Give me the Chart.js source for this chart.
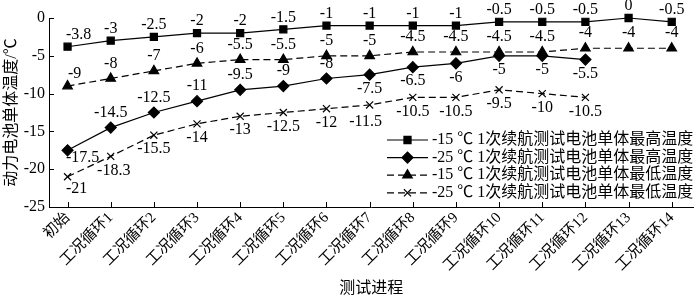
<!DOCTYPE html>
<html lang="zh">
<head>
<meta charset="UTF-8">
<title>动力电池单体温度</title>
<script src="https://cdn.jsdelivr.net/npm/chart.js"></script>
<style>
    html, body { margin: 0; padding: 0; background: #fff; }
    #wrap { width: 700px; height: 298px; }
</style>
</head>
<body>
<div id="wrap"><canvas id="tempChart" width="700" height="298"></canvas></div>
<script>
// x axis categories
const stages = ['初始', '工况循环1', '工况循环2', '工况循环3', '工况循环4', '工况循环5', '工况循环6',
    '工况循环7', '工况循环8', '工况循环9', '工况循环10', '工况循环11', '工况循环12', '工况循环13', '工况循环14'];

// cell temperatures, ℃
const maxAtMinus15 = [-3.8, -3, -2.5, -2, -2, -1.5, -1, -1, -1, -1, -0.5, -0.5, -0.5, 0, -0.5];
const maxAtMinus25 = [-17.5, -14.5, -12.5, -11, -9.5, -9, -8, -7.5, -6.5, -6, -5, -5, -5.5, null, null];
const minAtMinus15 = [-9, -8, -7, -6, -5.5, -5.5, -5, -5, -4.5, -4.5, -4.5, -4.5, -4, -4, -4];
const minAtMinus25 = [-21, -18.3, -15.5, -14, -13, -12.5, -12, -11.5, -10.5, -10.5, -9.5, -10, -10.5, null, null];

const seriesNames = [
    '-15 ℃ 1次续航测试电池单体最高温度',
    '-25 ℃ 1次续航测试电池单体最高温度',
    '-15 ℃ 1次续航测试电池单体最低温度',
    '-25 ℃ 1次续航测试电池单体最低温度'
];

const yTicks = [0, -5, -10, -15, -20, -25];

const SERIF = '"Liberation Serif", "Noto Sans CJK SC", serif';
Chart.defaults.font.family = SERIF;
Chart.defaults.color = '#000';

function toPoints(values) {
    return values.map((v, i) => ({ x: i, y: v })).filter(p => p.y !== null);
}

// value labels next to each point; offsets per series, a few points nudged
const valueLabels = {
    id: 'valueLabels',
    afterDatasetsDraw(chart, args, opts) {
        const ctx = chart.ctx;
        ctx.save();
        ctx.font = '16px ' + SERIF;
        ctx.fillStyle = '#000';
        ctx.textAlign = 'center';
        ctx.textBaseline = 'middle';
        chart.data.datasets.forEach((ds, di) => {
            const meta = chart.getDatasetMeta(di);
            meta.data.forEach((pt, k) => {
                const raw = ds.data[k];
                const idx = raw.x;
                let dy = opts.dy[di];
                let dx = 0;
                if (di === 1) dy = idx >= 7 ? 14 : -15;
                const nudge = (opts.nudge[di] || {})[idx];
                if (nudge) { dx = nudge[0]; dy = nudge[1]; }
                ctx.fillText(String(raw.y), pt.x + dx, pt.y + dy);
            });
        });
        ctx.restore();
    }
};

// inward tick marks on both axes
const innerTicks = {
    id: 'innerTicks',
    afterDraw(chart) {
        const ctx = chart.ctx;
        const xs = chart.scales.x, ys = chart.scales.y;
        const area = chart.chartArea;
        ctx.save();
        ctx.strokeStyle = '#000';
        ctx.lineWidth = 1;
        ctx.beginPath();
        xs.ticks.forEach(t => {
            const x = Math.round(xs.getPixelForValue(t.value)) + 0.5;
            ctx.moveTo(x, area.bottom);
            ctx.lineTo(x, area.bottom - 5);
        });
        ys.ticks.forEach(t => {
            const y = Math.round(ys.getPixelForValue(t.value)) + 0.5;
            ctx.moveTo(area.left, y);
            ctx.lineTo(area.left + 5, y);
        });
        ctx.stroke();
        ctx.restore();
    }
};

// legend drawn inside the plot, lower right
const innerLegend = {
    id: 'innerLegend',
    afterDraw(chart) {
        const ctx = chart.ctx;
        const area = chart.chartArea;
        const x0 = area.left + 338;
        const y0 = area.top + 122;
        ctx.save();
        ctx.font = '16px ' + SERIF;
        ctx.textBaseline = 'middle';
        ctx.textAlign = 'left';
        chart.data.datasets.forEach((ds, i) => {
            const y = y0 + i * 17.6;
            ctx.strokeStyle = '#000';
            ctx.lineWidth = ds.borderWidth;
            ctx.setLineDash(ds.borderDash || []);
            ctx.beginPath();
            ctx.moveTo(x0, y);
            ctx.lineTo(x0 + 41, y);
            ctx.stroke();
            ctx.setLineDash([]);
            Chart.helpers.drawPoint(ctx, {
                pointStyle: ds.pointStyle,
                radius: ds.pointRadius,
                borderWidth: ds.pointBorderWidth || 1,
                rotation: 0
            }, x0 + 20.5, y);
            ctx.fillStyle = '#000';
            ctx.fill();
            ctx.fillText(ds.label, x0 + 45, y);
        });
        ctx.restore();
    }
};

const common = {
    borderColor: '#000',
    backgroundColor: '#000',
    pointBorderColor: '#000',
    pointBackgroundColor: '#000',
    borderWidth: 1.2,
    tension: 0,
    clip: false
};

new Chart(document.getElementById('tempChart'), {
    type: 'line',
    data: {
        datasets: [
            { ...common, label: seriesNames[0], data: toPoints(maxAtMinus15), pointStyle: 'rect', pointRadius: 5 },
            { ...common, label: seriesNames[1], data: toPoints(maxAtMinus25), pointStyle: 'rectRot', pointRadius: 5.5 },
            { ...common, label: seriesNames[2], data: toPoints(minAtMinus15), pointStyle: 'triangle', pointRadius: 5.5, borderDash: [7, 4] },
            { ...common, label: seriesNames[3], data: toPoints(minAtMinus25), pointStyle: 'crossRot', pointRadius: 5, pointBorderWidth: 1.2, borderDash: [7, 4] }
        ]
    },
    options: {
        responsive: false,
        animation: false,
        devicePixelRatio: 1,
        layout: { padding: { top: 18, right: 1, left: 0, bottom: 0 } },
        plugins: {
            legend: { display: false },
            tooltip: { enabled: false },
            valueLabels: {
                dy: [-12, -15, -15, 14],
                nudge: {
                    0: { 0: [11, -12] },
                    1: { 0: [15, 7] },
                    2: { 0: [7, -12] },
                    3: { 0: [9, 12], 1: [3, 14], 7: [-4, 17] }
                }
            }
        },
        scales: {
            x: {
                type: 'linear',
                min: -0.43,
                max: 14.5,
                afterBuildTicks: s => { s.ticks = stages.map((c, i) => ({ value: i })); },
                afterFit: s => { s.height = 91; },
                grid: { display: false, drawTicks: false },
                border: { display: true, color: '#000', width: 1 },
                ticks: {
                    autoSkip: false,
                    minRotation: 45,
                    maxRotation: 45,
                    padding: 2,
                    font: { size: 15 },
                    callback: v => stages[v]
                },
                title: {
                    display: true,
                    text: '测试进程',
                    font: { size: 16 },
                    padding: { top: 0, bottom: 0 }
                }
            },
            y: {
                min: -25,
                max: 0,
                afterBuildTicks: s => { s.ticks = yTicks.map(v => ({ value: v })); },
                afterFit: s => { s.width = 49; },
                grid: { display: false, drawTicks: false },
                border: { display: true, color: '#000', width: 1 },
                ticks: { padding: 4, font: { size: 16 } },
                title: {
                    display: true,
                    text: '动力电池单体温度/℃',
                    font: { size: 16 },
                    padding: { top: 2, bottom: 0 }
                }
            }
        }
    },
    plugins: [valueLabels, innerTicks, innerLegend]
});
</script>
</body>
</html>
